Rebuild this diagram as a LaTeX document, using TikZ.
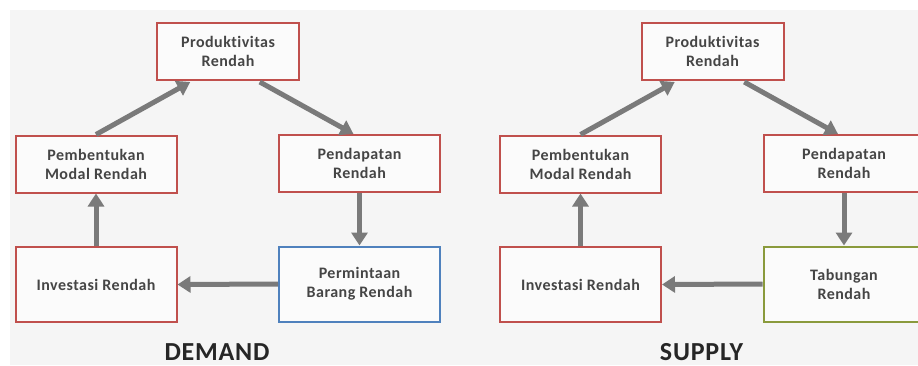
\documentclass[tikz,border=0pt]{standalone}
\usepackage{fontspec}
\setmainfont{Carlito}[Ligatures=NoCommon, LetterSpace=3]
\usepackage{xcolor}
\usetikzlibrary{arrows.meta, positioning}
\definecolor{boxred}{HTML}{C0504D}
\definecolor{boxblue}{HTML}{4F81BD}
\definecolor{boxgreen}{HTML}{8A9A3C}
\definecolor{arrowgray}{HTML}{7A7A7A}
\definecolor{txtgray}{HTML}{454545}
\definecolor{panelbg}{HTML}{F5F5F5}
\tikzset{arrow/.style={line width=5pt, draw=arrowgray, -{Triangle[width=16pt,length=13pt]}}}

\begin{document}
\begin{tikzpicture}[x=1pt, y=-1pt,
    box/.style={draw=boxred, line width=2pt, fill=white!60!panelbg, align=center,
      text=txtgray, font=\bfseries\fontsize{16}{19}\selectfont, inner sep=0pt},
    small/.style={box, minimum width=142pt, minimum height=57pt},
    wide/.style={box, minimum width=161pt, minimum height=57pt},
    tall/.style={box, minimum width=161pt, minimum height=75pt},
    caption/.style={text=black!85, inner sep=0pt, font=\bfseries\fontsize{26}{28}\selectfont},
]
    \clip (0,0) rectangle (918,365);
    \fill[white] (0,0) rectangle (918,365);
    \fill[panelbg] (10,10) rectangle (918,365);

    \foreach \dx/\p/\col/\last/\name in {0/L/boxblue/{Permintaan\\Barang Rendah}/DEMAND,
                                          484.5/R/boxgreen/{Tabungan\\Rendah}/SUPPLY} {
        % Boxes
        \node[small] (prod\p) at (228+\dx, 51.5) {Produktivitas\\Rendah};
        \node[wide] (pemb\p) at (96+\dx, 164) {Pembentukan\\Modal Rendah};
        \node[wide] (pend\p) at (359.5+\dx, 163.5) {Pendapatan\\Rendah};
        \node[tall] (inv\p) at (96+\dx, 284.5) {Investasi Rendah};
        \node[tall, draw=\col] (last\p) at (359.5+\dx, 284) {\last};

        % Caption
        \node[caption, anchor=base] (cap\p) at (217+\dx, 360) {\name};

        % Connections
        \draw[arrow] (inv\p.north) -- (pemb\p.south);
        \draw[arrow, shorten >=2pt] (pemb\p.north) -- ([xshift=-36pt]prod\p.south);
        \draw[arrow, shorten <=2pt] ([xshift=30pt]prod\p.south) -- ([xshift=-6pt]pend\p.north);
        \draw[arrow] (pend\p.south) -- (last\p.north);
        \draw[arrow] (last\p.west) -- (inv\p.east);
    }
\end{tikzpicture}
\end{document}
